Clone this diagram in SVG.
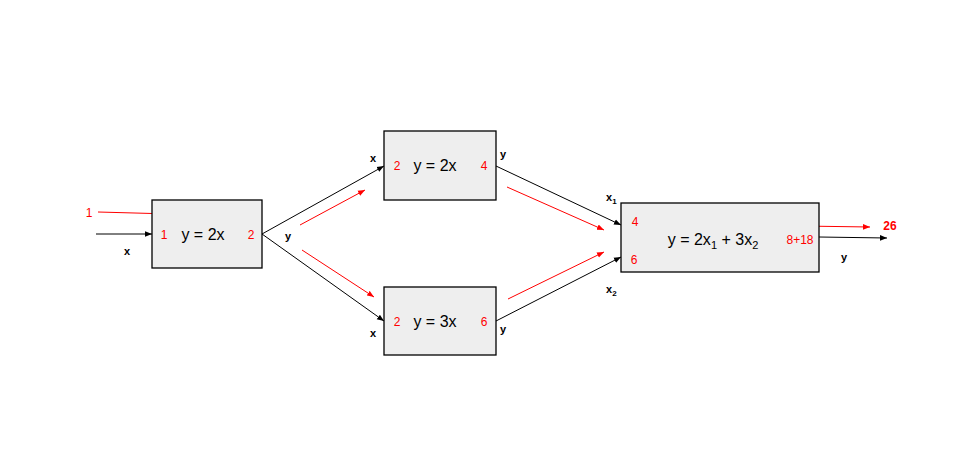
<svg xmlns="http://www.w3.org/2000/svg" width="960" height="469" viewBox="0 0 960 469">
<style>
.box{fill:#eeeeee;stroke:#000;stroke-width:1.3}
.k{stroke:#000;stroke-width:1;fill:none}
.r{stroke:#ff0000;stroke-width:1;fill:none}
text{font-family:"Liberation Sans",Arial,sans-serif}
.f{font-size:16px;fill:#000}
.rv{font-size:12px;fill:#ff0000}
.lb{font-size:11px;font-weight:bold;fill:#000}
</style>
<defs>
<marker id="ak" viewBox="0 0 10 10" refX="10" refY="5" markerWidth="7" markerHeight="7" orient="auto" markerUnits="userSpaceOnUse"><path d="M0,1 L10,5 L0,9 z" fill="#000"/></marker>
<marker id="ar" viewBox="0 0 10 10" refX="10" refY="5" markerWidth="7" markerHeight="7" orient="auto" markerUnits="userSpaceOnUse"><path d="M0,1 L10,5 L0,9 z" fill="#ff0000"/></marker>
</defs>
<rect width="960" height="469" fill="#fff"/>
<g id="connectors">
<line class="k" x1="96" y1="234" x2="152" y2="234" marker-end="url(#ak)"/>
<line class="k" x1="262" y1="234" x2="384" y2="166" marker-end="url(#ak)"/>
<line class="k" x1="262" y1="234" x2="384" y2="321" marker-end="url(#ak)"/>
<line class="k" x1="496" y1="166" x2="621" y2="225" marker-end="url(#ak)"/>
<line class="k" x1="496" y1="321" x2="621" y2="257" marker-end="url(#ak)"/>
<line class="k" x1="819" y1="237" x2="887" y2="238" marker-end="url(#ak)"/>
<line class="r" x1="98" y1="212" x2="171" y2="214" marker-end="url(#ar)"/>
<line class="r" x1="300" y1="225" x2="365" y2="190" marker-end="url(#ar)"/>
<line class="r" x1="302" y1="250" x2="374" y2="297" marker-end="url(#ar)"/>
<line class="r" x1="507" y1="187" x2="604" y2="230" marker-end="url(#ar)"/>
<line class="r" x1="508" y1="299" x2="604" y2="252" marker-end="url(#ar)"/>
<line class="r" x1="801" y1="226" x2="870" y2="227" marker-end="url(#ar)"/>
</g>
<g id="labels">
<text class="rv" x="89" y="217" text-anchor="middle">1</text>
<text class="lb" x="127" y="255" text-anchor="middle">x</text>
<text class="lb" x="288" y="240" text-anchor="middle">y</text>
<text class="lb" x="373" y="162" text-anchor="middle">x</text>
<text class="lb" x="503" y="158" text-anchor="middle">y</text>
<text class="lb" x="373" y="337" text-anchor="middle">x</text>
<text class="lb" x="503" y="333" text-anchor="middle">y</text>
<text class="lb" x="606" y="201">x<tspan font-size="8" dy="3">1</tspan></text>
<text class="lb" x="606" y="293">x<tspan font-size="8" dy="3">2</tspan></text>
<text class="lb" x="844" y="261" text-anchor="middle">y</text>
<text x="890" y="230" text-anchor="middle" font-size="12" font-weight="bold" fill="#ff0000">26</text>
</g>
<g id="nodeA">
<rect class="box" x="152" y="200" width="110" height="68"/>
<text class="rv" x="164" y="239" text-anchor="middle">1</text>
<text class="f" x="203" y="240" text-anchor="middle">y = 2x</text>
<text class="rv" x="251" y="239" text-anchor="middle">2</text>
</g>
<g id="nodeB">
<rect class="box" x="384" y="131" width="112" height="69"/>
<text class="rv" x="397" y="170" text-anchor="middle">2</text>
<text class="f" x="435" y="171" text-anchor="middle">y = 2x</text>
<text class="rv" x="484" y="170" text-anchor="middle">4</text>
</g>
<g id="nodeC">
<rect class="box" x="384" y="287" width="112" height="68"/>
<text class="rv" x="397" y="326" text-anchor="middle">2</text>
<text class="f" x="435" y="327" text-anchor="middle">y = 3x</text>
<text class="rv" x="484" y="326" text-anchor="middle">6</text>
</g>
<g id="nodeD">
<rect class="box" x="621" y="203" width="198" height="69"/>
<text class="rv" x="635" y="226" text-anchor="middle">4</text>
<text class="rv" x="634" y="264" text-anchor="middle">6</text>
<text class="f" x="713" y="245" text-anchor="middle">y = 2x<tspan font-size="11" dy="4">1</tspan><tspan dy="-4"> + 3x</tspan><tspan font-size="11" dy="4">2</tspan></text>
<text class="rv" x="800" y="244" text-anchor="middle">8+18</text>
</g>
</svg>
